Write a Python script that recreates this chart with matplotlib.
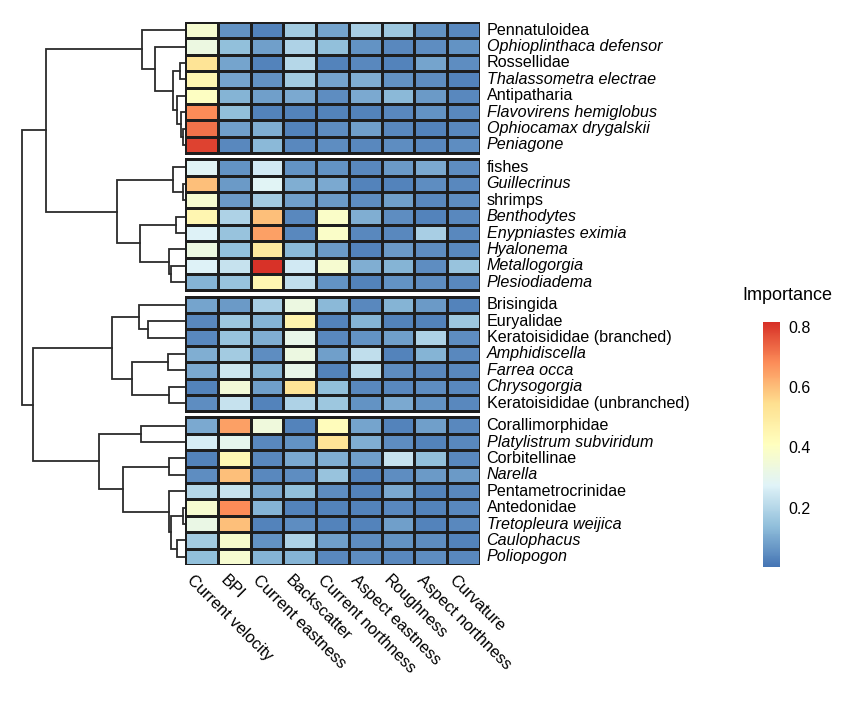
import numpy as np
import matplotlib
matplotlib.use("Agg")
import matplotlib.pyplot as plt
from matplotlib.colors import LinearSegmentedColormap

plt.rcParams['font.family'] = ['Liberation Sans', 'DejaVu Sans']

# variables (columns)
variables = ['Current velocity', 'BPI', 'Current eastness', 'Backscatter', 'Current northness',
             'Aspect eastness', 'Roughness', 'Aspect northness', 'Curvature']

# taxa (rows, top to bottom) and whether the label is italic
taxa = ['Pennatuloidea', 'Ophioplinthaca defensor', 'Rossellidae', 'Thalassometra electrae',
        'Antipatharia', 'Flavovirens hemiglobus', 'Ophiocamax drygalskii', 'Peniagone',
        'fishes', 'Guillecrinus', 'shrimps', 'Benthodytes', 'Enypniastes eximia', 'Hyalonema',
        'Metallogorgia', 'Plesiodiadema',
        'Brisingida', 'Euryalidae', 'Keratoisididae (branched)', 'Amphidiscella', 'Farrea occa',
        'Chrysogorgia', 'Keratoisididae (unbranched)',
        'Corallimorphidae', 'Platylistrum subviridum', 'Corbitellinae', 'Narella',
        'Pentametrocrinidae', 'Antedonidae', 'Tretopleura weijica', 'Caulophacus', 'Poliopogon']
italic = [0, 1, 0, 1, 0, 1, 1, 1,
          0, 1, 0, 1, 1, 1, 1, 1,
          0, 0, 0, 1, 1, 1, 0,
          0, 1, 0, 1, 0, 0, 1, 1, 1]
group_sizes = [8, 8, 7, 9]

importance = np.array([
    [0.37, 0.06, 0.03, 0.17, 0.09, 0.18, 0.16, 0.06, 0.04],
    [0.33, 0.14, 0.08, 0.19, 0.14, 0.06, 0.04, 0.05, 0.06],
    [0.53, 0.09, 0.03, 0.20, 0.03, 0.04, 0.03, 0.09, 0.05],
    [0.45, 0.09, 0.06, 0.17, 0.09, 0.11, 0.06, 0.05, 0.03],
    [0.40, 0.12, 0.08, 0.10, 0.05, 0.10, 0.13, 0.07, 0.04],
    [0.68, 0.14, 0.03, 0.03, 0.03, 0.03, 0.04, 0.06, 0.04],
    [0.72, 0.08, 0.11, 0.03, 0.05, 0.08, 0.04, 0.03, 0.04],
    [0.79, 0.04, 0.13, 0.04, 0.05, 0.04, 0.05, 0.04, 0.05],
    [0.28, 0.06, 0.25, 0.06, 0.06, 0.04, 0.07, 0.10, 0.05],
    [0.60, 0.07, 0.28, 0.11, 0.10, 0.03, 0.03, 0.05, 0.04],
    [0.37, 0.07, 0.17, 0.08, 0.07, 0.05, 0.08, 0.04, 0.05],
    [0.45, 0.19, 0.60, 0.04, 0.39, 0.11, 0.05, 0.03, 0.04],
    [0.27, 0.15, 0.65, 0.04, 0.39, 0.04, 0.04, 0.18, 0.04],
    [0.33, 0.14, 0.50, 0.13, 0.07, 0.03, 0.07, 0.05, 0.04],
    [0.27, 0.23, 0.81, 0.25, 0.37, 0.11, 0.12, 0.05, 0.15],
    [0.12, 0.15, 0.45, 0.22, 0.06, 0.03, 0.06, 0.05, 0.04],
    [0.09, 0.07, 0.18, 0.33, 0.13, 0.04, 0.12, 0.07, 0.03],
    [0.04, 0.16, 0.12, 0.46, 0.03, 0.12, 0.03, 0.03, 0.16],
    [0.04, 0.15, 0.11, 0.31, 0.04, 0.06, 0.08, 0.19, 0.05],
    [0.11, 0.17, 0.05, 0.33, 0.08, 0.22, 0.03, 0.12, 0.04],
    [0.10, 0.24, 0.12, 0.31, 0.03, 0.21, 0.05, 0.04, 0.04],
    [0.03, 0.35, 0.08, 0.53, 0.14, 0.04, 0.04, 0.05, 0.04],
    [0.05, 0.23, 0.03, 0.19, 0.16, 0.06, 0.10, 0.06, 0.04],
    [0.10, 0.65, 0.34, 0.03, 0.42, 0.09, 0.03, 0.08, 0.04],
    [0.26, 0.30, 0.04, 0.06, 0.53, 0.11, 0.05, 0.03, 0.04],
    [0.03, 0.44, 0.04, 0.10, 0.11, 0.08, 0.23, 0.14, 0.04],
    [0.05, 0.60, 0.04, 0.05, 0.15, 0.03, 0.05, 0.07, 0.07],
    [0.20, 0.23, 0.10, 0.14, 0.05, 0.03, 0.10, 0.03, 0.04],
    [0.37, 0.68, 0.12, 0.03, 0.03, 0.03, 0.04, 0.03, 0.04],
    [0.32, 0.60, 0.03, 0.05, 0.03, 0.03, 0.08, 0.03, 0.04],
    [0.17, 0.38, 0.06, 0.19, 0.08, 0.05, 0.06, 0.05, 0.03],
    [0.14, 0.37, 0.12, 0.12, 0.04, 0.05, 0.04, 0.05, 0.04],
])

# row dendrogram merges: (child a, child b, height); new nodes numbered from 32
merges = [
    (6, 7, 1.7), (5, 32, 4.3), (4, 33, 8.3), (2, 3, 5.0), (35, 34, 12.3), (1, 36, 29.7),
    (0, 37, 42.7), (9, 10, 1.7), (8, 39, 11.7), (11, 12, 9.0), (14, 15, 14.0), (13, 42, 15.7),
    (41, 43, 45.0), (40, 44, 68.3), (38, 45, 139.3), (17, 18, 36.7), (16, 47, 45.7),
    (19, 20, 16.7), (21, 22, 16.0), (49, 50, 52.7), (48, 51, 72.7), (23, 24, 44.0),
    (25, 26, 15.7), (28, 29, 1.7), (30, 31, 7.7), (55, 56, 14.0), (27, 57, 16.3),
    (54, 58, 61.7), (53, 59, 86.0), (52, 60, 151.7), (46, 61, 163.3),
]

W, H = 857, 710
fig = plt.figure(figsize=(W / 100, H / 100), dpi=100)


def px_axes(x0, y0, x1, y1):
    return fig.add_axes([x0 / W, 1 - y1 / H, (x1 - x0) / W, (y1 - y0) / H])


cmap = LinearSegmentedColormap.from_list(
    'rdylbu', ['#4575B4', '#91BFDB', '#E0F3F8', '#FFFFBF', '#FEE090', '#FC8D59', '#D73027'])
vmin, vmax = 0.003, 0.816
gap = 0.37

ax = px_axes(185, 22, 480, 565)
row_centers = []
start = 0
y0 = 0.0
for g, n in enumerate(group_sizes):
    block = importance[start:start + n]
    ys = y0 + np.arange(n + 1)
    ax.pcolormesh(np.arange(len(variables) + 1), ys, block, cmap=cmap, vmin=vmin, vmax=vmax,
                  edgecolors='#1e1e1e', linewidth=1.0)
    row_centers.extend(y0 + np.arange(n) + 0.5)
    start += n
    y0 += n + gap
total_h = y0 - gap
ax.set_xlim(0, len(variables))
ax.set_ylim(total_h, 0)
ax.axis('off')

for i, name in enumerate(taxa):
    ax.text(len(variables) + 0.2, row_centers[i], name, fontsize=11.6, va='center', ha='left',
            style='italic' if italic[i] else 'normal')

for j, var in enumerate(variables):
    ax.text(j + 0.5 - 0.2, total_h + 0.45, var, fontsize=11.8, rotation=-45,
            rotation_mode='anchor', ha='left', va='top')

# dendrogram
dax = px_axes(21, 22, 185, 565)
pos = {i: (row_centers[i], 0.0) for i in range(len(taxa))}
for k, (a, b, h) in enumerate(merges):
    ya, ha_ = pos[a]
    yb, hb = pos[b]
    dax.plot([ha_, h, h, hb], [ya, ya, yb, yb], color='#2b2b2b', linewidth=1.3,
             solid_joinstyle='miter')
    pos[len(taxa) + k] = ((ya + yb) / 2, h)
dax.set_xlim(164, 0)
dax.set_ylim(total_h, 0)
dax.axis('off')

# colour bar
cax = px_axes(763, 322, 780, 567)
sm = plt.cm.ScalarMappable(cmap=cmap, norm=plt.Normalize(vmin, vmax))
cb = fig.colorbar(sm, cax=cax, ticks=[0.2, 0.4, 0.6, 0.8])
cb.outline.set_visible(False)
cb.ax.tick_params(length=0, labelsize=11.5, pad=6)
cb.ax.set_yticklabels(['0.2', '0.4', '0.6', '0.8'])
fig.text(787 / W, 1 - 295 / H, 'Importance', fontsize=13, ha='center', va='center')

fig.savefig('out.png', dpi=100)
